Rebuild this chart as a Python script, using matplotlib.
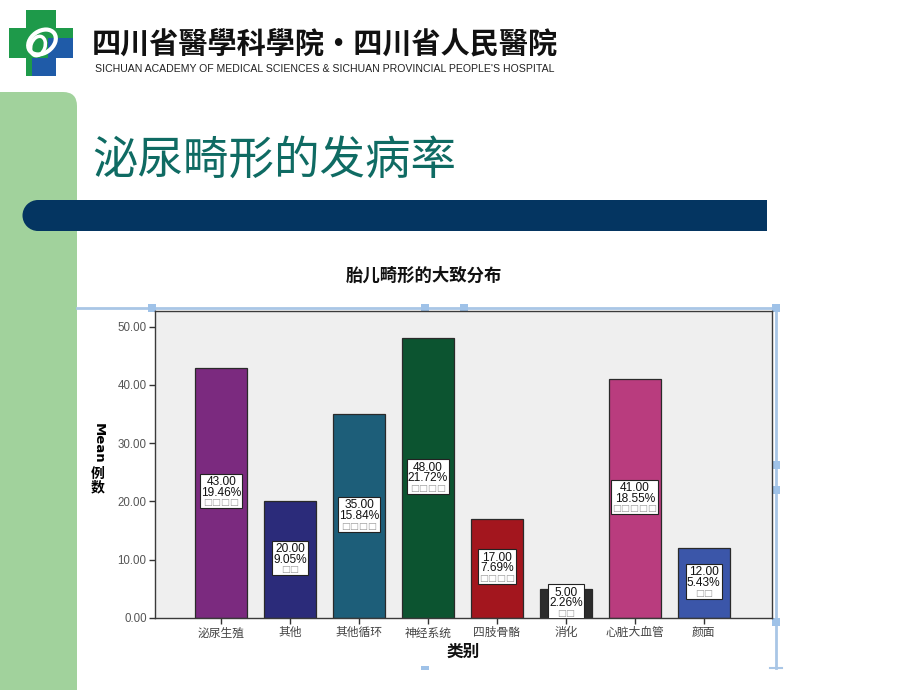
import matplotlib
matplotlib.use("Agg")
import matplotlib.pyplot as plt
from matplotlib.patches import FancyBboxPatch, Rectangle, Circle, Ellipse
from matplotlib.transforms import Bbox

plt.rcParams['font.family'] = ['Noto Sans CJK SC', 'DejaVu Sans']

# 数据
categories = ['泌尿生殖', '其他', '其他循环', '神经系统', '四肢骨骼', '消化', '心脏大血管', '颜面']
counts = [43, 20, 35, 48, 17, 5, 41, 12]
percents = [19.46, 9.05, 15.84, 21.72, 7.69, 2.26, 18.55, 5.43]
y_ticks = [0, 10, 20, 30, 40, 50]

bar_colors = ['#7b2a7f', '#2b2b7a', '#1d5e79', '#0c5430', '#a3161e', '#2c2c2c', '#b93c7e', '#3b56a9']

W, H = 920, 690
fig = plt.figure(figsize=(9.2, 6.9), dpi=100)
fig.patch.set_facecolor('white')

# 整页背景，像素坐标
bg = fig.add_axes([0, 0, 1, 1])
bg.set_xlim(0, W); bg.set_ylim(H, 0); bg.axis('off')

# 左侧绿条
bg.add_patch(FancyBboxPatch((-30, 92), 107, 640, boxstyle="round,pad=0,rounding_size=14",
                            fc='#a1d29c', ec='none', zorder=1))

# logo
GREEN = '#1e9a4a'; LBLUE = '#1f5ba8'
bg.add_patch(Rectangle((26, 10), 30, 66, fc=GREEN, ec='none', zorder=2))
bg.add_patch(Rectangle((9, 28), 64, 30, fc=GREEN, ec='none', zorder=2))
bg.add_patch(Rectangle((48, 38), 25, 20, fc=LBLUE, ec='none', zorder=2))
bg.add_patch(Rectangle((32, 58), 24, 18, fc=LBLUE, ec='none', zorder=2))
bg.add_patch(Ellipse((42, 42), 30, 22, angle=-35, fc='none', ec='white', lw=3, zorder=3))
bg.add_patch(Ellipse((38, 46), 14, 20, angle=20, fc='none', ec='white', lw=2.5, zorder=3))

bg.text(92, 44, '四川省醫學科學院·四川省人民醫院', fontsize=21, fontweight='bold',
        family=['Noto Sans CJK TC', 'DejaVu Sans'], color='#111111', va='center', ha='left', zorder=3)
bg.text(95, 69, "SICHUAN ACADEMY OF MEDICAL SCIENCES & SICHUAN PROVINCIAL PEOPLE'S HOSPITAL",
        fontsize=7.6, family='Liberation Sans', color='#222222', va='center', ha='left', zorder=3)

# 大标题
bg.text(92, 160, '泌尿畸形的发病率', fontsize=32.8, color='#0f6b63', fontweight='medium',
        va='center', ha='left', zorder=3)

# 深蓝横条
NAVY = '#043561'
bg.add_patch(Rectangle((38, 200), 729, 31, fc=NAVY, ec='none', zorder=3))
bg.add_patch(Circle((38, 215.5), 15.5, fc=NAVY, ec='none', zorder=3))

# 选中框（浅蓝线和小方块）
SEL = '#a9c6e6'
bg.plot([77, 776], [308, 308], color=SEL, lw=2, zorder=2)
bg.plot([776, 776], [308, 668], color=SEL, lw=2, zorder=2)
bg.plot([770, 782], [668, 668], color=SEL, lw=1.5, zorder=2)
for (x, y) in [(152, 308), (425, 308), (464, 308), (776, 308), (776, 465), (776, 490), (776, 622)]:
    bg.add_patch(Rectangle((x - 4, y - 4), 8, 8, fc='#9fc2e8', ec='none', zorder=2))
bg.add_patch(Rectangle((421, 666), 8, 4, fc='#9fc2e8', ec='none', zorder=2))

# 图表标题与轴标题
bg.text(424, 276, '胎儿畸形的大致分布', fontsize=12.5, fontweight='bold', color='#111111',
        ha='center', va='center', zorder=3)
bg.text(463, 652, '类别', fontsize=12, fontweight='bold', color='#111111',
        ha='center', va='center', zorder=3)
bg.text(98, 443, 'Mean', fontsize=9.5, fontweight='bold', rotation=-90,
        family='DejaVu Sans', ha='center', va='center', zorder=3)
bg.text(98, 481, '例\n数', fontsize=10, fontweight='bold', linespacing=0.95,
        ha='center', va='center', zorder=3)

# 图表
ax = fig.add_axes([155 / W, (H - 618) / H, (772 - 155) / W, (618 - 311) / H])
ax.set_facecolor('#efefef')
x = list(range(len(categories)))
ax.bar(x, counts, width=0.76, color=bar_colors, edgecolor='#2a2a2a', lw=0.9, zorder=2)
ax.set_xlim(-0.96, 7.99)
ax.set_ylim(0, 52.7)

# 数值标签：三行文字 + 白底框
groups = []
for i, (c, p, name) in enumerate(zip(counts, percents, categories)):
    t1 = ax.annotate(f"{c:.2f}", (i, c / 2), xytext=(0, 7.6), textcoords='offset points',
                     fontsize=8.6, family='Liberation Sans', color='#111111',
                     ha='center', va='center', zorder=5)
    t2 = ax.annotate(f"{p:.2f}%", (i, c / 2), xytext=(0, 0), textcoords='offset points',
                     fontsize=8.6, family='Liberation Sans', color='#111111',
                     ha='center', va='center', zorder=5)
    t3 = ax.annotate('□' * len(name), (i, c / 2), xytext=(0, -7.2), textcoords='offset points',
                     fontsize=6.8, family='DejaVu Sans', color='#9a9a9a',
                     ha='center', va='center', zorder=5)
    groups.append((t1, t2, t3))

ax.set_yticks(y_ticks)
ax.set_yticklabels([f"{v:.2f}" for v in y_ticks], family='Liberation Sans', fontsize=8.3, color='#555555')
ax.set_xticks(x)
ax.set_xticklabels(categories, fontsize=8.5, color='#444444')
ax.tick_params(axis='both', direction='out', length=4, width=1, color='#333333', pad=2)
for s in ax.spines.values():
    s.set_color('#3a3a3a'); s.set_linewidth(1)

fig.canvas.draw()
r = fig.canvas.get_renderer()
for t1, t2, t3 in groups:
    bb = Bbox.union([t.get_window_extent(r) for t in (t1, t2, t3)])
    ax.add_patch(Rectangle((bb.x0 - 1, bb.y0 - 1), bb.width + 2, bb.height + 3.5, transform=None,
                           fc='white', ec='#222222', lw=0.8, zorder=4))

fig.savefig('out.png', dpi=100, facecolor='white')
